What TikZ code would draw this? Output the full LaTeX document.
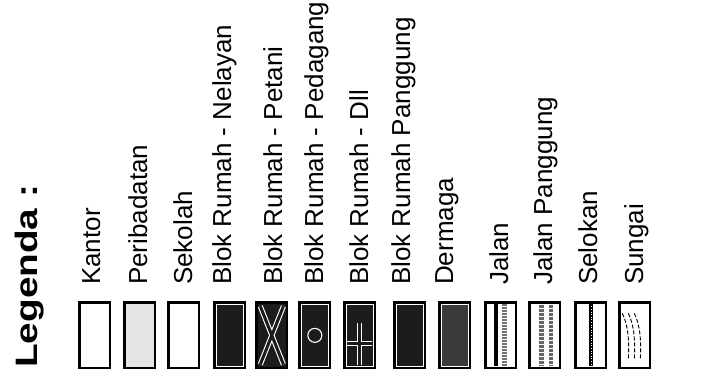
\documentclass[tikz,border=0pt]{standalone}
\usepackage{fontspec}
\setmainfont{Liberation Sans}
\usetikzlibrary{calc}
\definecolor{lgink}{HTML}{000000}
\definecolor{lgdark}{HTML}{1C1C1C}
\definecolor{lgdock}{HTML}{3A3A3A}
\definecolor{lglight}{HTML}{E4E4E4}
\tikzset{
  lg box/.style={draw=lgink, line width=2.6pt, minimum width=30.5pt, minimum height=65.5pt,
    inner sep=0pt, anchor=north west},
  lg plain/.style={fill=white},
  lg light/.style={fill=lglight},
  lg dark/.style={fill=lgdark},
  lg dock/.style={fill=lgdock},
  lg inner/.style={draw=white, line width=0.9pt},
  lg mark/.style={draw=white, double=lgdark, line width=1.1pt, double distance=3pt},
  lg label/.style={rotate=90, anchor=base west, inner sep=0pt, text=lgink,
    font=\fontsize{26}{30}\selectfont},
  lg title/.style={rotate=90, anchor=base west, inner sep=0pt, text=lgink,
    font=\bfseries\fontsize{31}{36}\selectfont}
}

\begin{document}
\begin{tikzpicture}[x=1pt, y=-1pt]
  \path[use as bounding box, fill=white] (0,0) rectangle (723,382);
  \node[lg title] (title) at (37,368) {\scalebox{1.25}[1]{Legenda :}};
  % boxes and their labels
  \foreach \bx/\tx/\st/\nm/\lab in {
      77/100/lg plain/kantor/Kantor,
      122/147/lg light/ibadah/Peribadatan,
      166/192/lg plain/sekolah/Sekolah,
      212/231/lg dark/nelayan/Blok Rumah - Nelayan,
      254/282/lg dark/petani/Blok Rumah - Petani,
      297/323/lg dark/dagang/Blok Rumah - Pedagang,
      342/368/lg dark/dll/Blok Rumah - Dll,
      392/410/lg dark/panggung/Blok Rumah Panggung,
      437/453/lg dock/dermaga/Dermaga,
      483/508/lg plain/jalan/Jalan,
      527/552/lg plain/jpanggung/Jalan Panggung,
      573/597/lg plain/selokan/Selokan,
      617/643/lg plain/sungai/Sungai} {
    \node[lg box, \st] (\nm) at (\bx+1.3,301.3) {};
    \node[lg label] (\nm-lab) at (\tx,285) {\lab};
  }
  % inner white borders
  \foreach \nm in {nelayan,dagang,dll,panggung,dermaga}
    \draw[lg inner] ($(\nm.north west)+(3,3)$) rectangle ($(\nm.south east)+(-3,-3)$);
  % petani: cross
  \draw[lg mark] ($(petani.north west)+(5,5)$) -- ($(petani.south east)+(-5,-5)$)
    ($(petani.north east)+(-5,5)$) -- ($(petani.south west)+(5,-5)$);
  % pedagang: circle
  \draw[lg inner, line width=1.1pt] (dagang.center) circle (7);
  % dll: plus
  \draw[lg mark] ($(dll.north)+(0,22)$) -- ($(dll.south)+(0,-4)$)
    ($(dll.west)+(4,8)$) -- ($(dll.east)+(-4,8)$);
  % jalan
  \draw[lgink, line width=4pt] ($(jalan.north west)+(11.5,3)$) -- ($(jalan.south west)+(11.5,-3)$);
  \draw[black!55, line width=5pt, dash pattern=on 2pt off 1pt]
    ($(jalan.north west)+(20.5,3)$) -- ($(jalan.south west)+(20.5,-3)$);
  % jalan panggung
  \foreach \dx in {13,22.5}
    \draw[black!60, line width=4.5pt, dash pattern=on 3pt off 1pt]
      ($(jpanggung.north west)+(\dx,4)$) -- ($(jpanggung.south west)+(\dx,-4)$);
  % selokan
  \draw[lgink, line width=3.5pt] ($(selokan.north)+(0,3)$) -- ($(selokan.south)+(0,-3)$);
  \draw[white, line width=0.6pt, dotted] ($(selokan.north)+(0,5)$) -- ($(selokan.south)+(0,-5)$);
  % sungai
  \begin{scope}[shift={(sungai.north west)}, lgink, line width=0.9pt, dash pattern=on 4pt off 2pt]
    \foreach \dx in {0,6,12}
      \draw (4+\dx,12) .. controls (10+\dx,24) and (11+\dx,40) .. (10+\dx,59);
  \end{scope}
\end{tikzpicture}
\end{document}
